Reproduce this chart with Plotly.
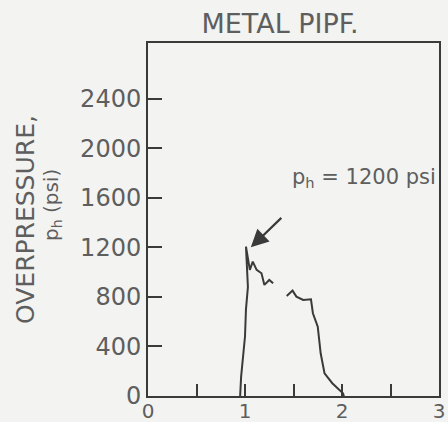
import plotly.graph_objects as go

# Data (time axis 0..3, overpressure in psi)
x_vals = [0.95, 0.96, 1.00, 1.01, 1.03, 1.02, 1.01, 1.05, 1.08, 1.12, 1.17, 1.20, 1.25, 1.29,
          None,
          1.43, 1.49, 1.53, 1.60, 1.68, 1.70, 1.75, 1.78, 1.82, 1.90, 2.01, 2.02]
y_vals = [0, 156, 480, 700, 880, 1050, 1206, 1018, 1085, 1018, 991, 897, 937, 910,
          None,
          808, 851, 802, 776, 781, 668, 560, 345, 183, 103, 22, 0]

x_ticks = [0, 1, 2, 3]
x_minor = [0.5, 1.5, 2.5]
y_ticks = [0, 400, 800, 1200, 1600, 2000, 2400]

peak_x = 1.06
peak_y = 1200

ink = "#3a3a3a"
txt = "#5e5e5e"
bg = "#f3f3f1"
font = "DejaVu Sans"

fig = go.Figure()
fig.add_trace(go.Scatter(x=x_vals, y=y_vals, mode="lines",
                         line=dict(color=ink, width=2), connectgaps=False,
                         hoverinfo="skip", showlegend=False))

fig.update_layout(
    width=448, height=422,
    margin=dict(l=148, r=9, t=43, b=26),
    paper_bgcolor=bg, plot_bgcolor=bg,
    showlegend=False,
    title=dict(text="METAL PIPF.", x=0.625, xanchor="center", y=0.945, yanchor="middle",
               font=dict(family=font, size=27, color=txt)),
    font=dict(family=font, color=txt),
)

fig.update_xaxes(range=[0, 3], tickvals=x_ticks,
                 ticks="inside", ticklen=12, tickwidth=1.5, tickcolor=ink,
                 minor=dict(tickvals=x_minor, ticks="inside", ticklen=12,
                            tickwidth=1.5, tickcolor=ink, showgrid=False),
                 showline=True, linecolor=ink, linewidth=2, mirror=True,
                 showgrid=False, zeroline=False, automargin=False,
                 ticklabelstandoff=-4,
                 tickfont=dict(family=font, size=20, color=txt))
fig.update_yaxes(range=[0, 2850], tickvals=y_ticks,
                 ticks="inside", ticklen=14, tickwidth=1.5, tickcolor=ink,
                 showline=True, linecolor=ink, linewidth=2, mirror=True,
                 showgrid=False, zeroline=False, automargin=False,
                 tickfont=dict(family=font, size=24, color=txt))

# Y-axis title as two rotated lines
fig.add_annotation(text="OVERPRESSURE,", xref="paper", yref="paper",
                   x=-148 / 291 + 25 / 291, y=(422 - 26 - 220) / 353,
                   textangle=-90, showarrow=False, xanchor="center", yanchor="middle",
                   font=dict(family=font, size=25, color=txt))
fig.add_annotation(text="p<sub>h</sub> (psi)", xref="paper", yref="paper",
                   x=-148 / 291 + 52 / 291, y=(422 - 26 - 205) / 353,
                   textangle=-90, showarrow=False, xanchor="center", yanchor="middle",
                   font=dict(family=font, size=20, color=txt))

# Peak annotation
fig.add_annotation(text="p<sub>h</sub> = 1200 psi", x=2.99, y=1760, xref="x", yref="y",
                   showarrow=False, xanchor="right", yanchor="middle",
                   font=dict(family=font, size=21, color=txt))
fig.add_annotation(text="", x=peak_x, y=peak_y, xref="x", yref="y",
                   ax=1.39, ay=1450, axref="x", ayref="y",
                   showarrow=True, arrowhead=2, arrowsize=1.6, arrowwidth=2.2,
                   arrowcolor=ink)

fig.write_html("out.html")
